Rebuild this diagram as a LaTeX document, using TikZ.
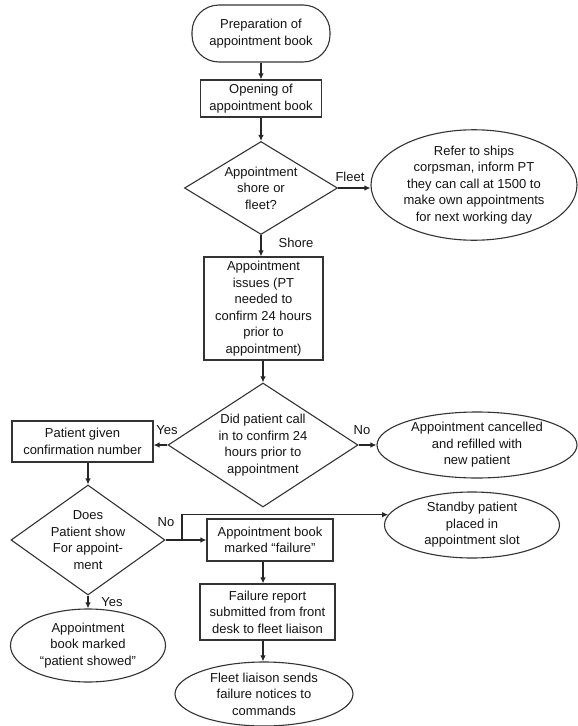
\documentclass[tikz,border=0pt]{standalone}
\usepackage{fontspec}
\setmainfont{Liberation Sans}
\usetikzlibrary{shapes.geometric,arrows.meta}
\begin{document}
\begin{tikzpicture}[x=1pt,y=-1pt,
  every node/.style={font=\fontsize{13}{16.5}\selectfont, text=black!92, align=center, inner sep=0pt},
  box/.style={draw=black!80, line width=1.1pt, rectangle},
  term/.style={box, rounded corners=27pt},
  oval/.style={draw=black!80, line width=1.1pt, ellipse},
  decision/.style={draw=black!80, line width=1.1pt, diamond, inner sep=-2pt},
  lbl/.style={font=\fontsize{13}{15}\selectfont},
  arr/.style={draw=black!85, line width=1.3pt, -{Latex[length=6pt,width=5.5pt]}},
  conn/.style={draw=black!85, line width=1.1pt}]
\useasboundingbox (0,0) rectangle (578,726);
\fill[white] (0,0) rectangle (578,726);

% main column
\node[term, minimum width=138pt, minimum height=57pt] (prep) at (261,33.5) {Preparation of\\appointment book};
\node[box, minimum width=121pt, minimum height=37pt] (open) at (261,98.5) {Opening of\\appointment book};
\node[decision, minimum width=153pt, minimum height=93pt, aspect=1.66] (d1) at (261,188) {Appointment\\shore or\\fleet?};
\node[oval, minimum width=206pt, minimum height=108pt] (fleet) at (474,185) {Refer to ships\\corpsman, inform PT\\they can call at 1500 to\\make own appointments\\for next working day};
\node[box, minimum width=119pt, minimum height=103pt] (issues) at (263.5,308.5) {Appointment\\issues (PT\\needed to\\confirm 24 hours\\prior to\\appointment)};
\node[decision, minimum width=190pt, minimum height=124pt, aspect=1.53] (d2) at (263,445) {Did patient call\\in to confirm 24\\hours prior to\\appointment};
\node[oval, minimum width=200pt, minimum height=66pt] (cancel) at (477,445) {Appointment cancelled\\and refilled with\\new patient};

% left branch
\node[box, minimum width=141pt, minimum height=41pt] (given) at (82.5,441.5) {Patient given\\confirmation number};
\node[decision, minimum width=154pt, minimum height=110pt, aspect=1.4] (d3) at (88,540) {Does\\Patient show\\For appoint-\\ment};
\node[oval, minimum width=155pt, minimum height=73pt] (showed) at (88,645.5) {Appointment\\book marked\\“patient showed”};

% failure branch
\node[box, minimum width=126pt, minimum height=42pt] (failure) at (270,540) {Appointment book\\marked “failure”};
\node[oval, minimum width=175pt, minimum height=66pt] (standby) at (472,525) {Standby patient\\placed in\\appointment slot};
\node[box, minimum width=135pt, minimum height=56pt] (report) at (267.5,612) {Failure report\\submitted from front\\desk to fleet liaison};
\node[oval, minimum width=178pt, minimum height=64pt] (liaison) at (264,694) {Fleet liaison sends\\failure notices to\\commands};

% connectors
\coordinate (spine) at (263,0);
\coordinate (jn) at (182,540);
\draw[arr] (prep) -- (open);
\draw[arr] (open) -- (d1);
\draw[arr] (d1.east) -- (d1.east -| fleet.west);
\draw[arr] (d1.south) -- (issues.north -| d1.south);
\draw[arr] (issues.south -| d2.north) -- (d2.north);
\draw[arr] (d2.west) -- (d2.west -| given.east);
\draw[arr] (d2) -- (cancel);
\draw[arr] (given.south -| d3.north) -- (d3.north);
\draw[arr] (d3.south) -- (showed.north -| d3.south);
\draw[conn] (d3.east) -- (jn);
\draw[arr] (jn) -- (failure.west |- jn);
\draw[arr] (jn) |- (standby.173);
\draw[arr] (failure.south -| spine) -- (report.north -| spine);
\draw[arr] (report.south -| spine) -- (liaison.north -| spine);

% branch labels
\node[lbl] (lfleet) at (350,177) {Fleet};
\node[lbl] (lshore) at (296,243) {Shore};
\node[lbl] (lyes1) at (167,430) {Yes};
\node[lbl] (lno1) at (362,430) {No};
\node[lbl] (lno2) at (166,522) {No};
\node[lbl] (lyes2) at (112,602) {Yes};
\end{tikzpicture}
\end{document}
